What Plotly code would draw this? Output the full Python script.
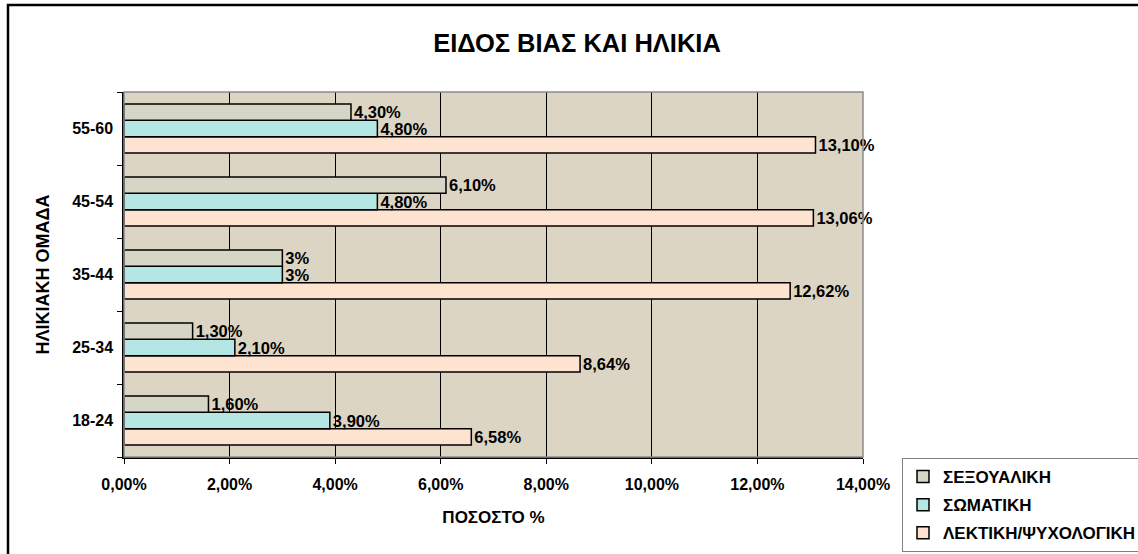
import plotly.graph_objects as go

# Age groups (bottom to top) and percentages per type of violence
age_groups = ["18-24", "25-34", "35-44", "45-54", "55-60"]
sexual = [1.60, 1.30, 3.00, 6.10, 4.30]
physical = [3.90, 2.10, 3.00, 4.80, 4.80]
verbal = [6.58, 8.64, 12.62, 13.06, 13.10]

sexual_labels = ["1,60%", "1,30%", "3%", "6,10%", "4,30%"]
physical_labels = ["3,90%", "2,10%", "3%", "4,80%", "4,80%"]
verbal_labels = ["6,58%", "8,64%", "12,62%", "13,06%", "13,10%"]

tick_vals = [0, 0.02, 0.04, 0.06, 0.08, 0.10, 0.12, 0.14]
tick_text = ["0,00%", "2,00%", "4,00%", "6,00%", "8,00%", "10,00%", "12,00%", "14,00%"]

FONT = "Arial, Liberation Sans, sans-serif"


def bold(size):
    return dict(family=FONT, size=size, color="#000000", weight="bold")


# (name, values, labels, fill, legend rank) — drawn bottom-up within a group
series = [
    ("ΛΕΚΤΙΚΗ/ΨΥΧΟΛΟΓΙΚΗ", verbal, verbal_labels, "#fde3d0", 3),
    ("ΣΩΜΑΤΙΚΗ", physical, physical_labels, "#b4e6e4", 2),
    ("ΣΕΞΟΥΑΛΙΚΗ", sexual, sexual_labels, "#d6d6c6", 1),
]

fig = go.Figure()
for name, vals, labels, color, rank in series:
    fig.add_trace(go.Bar(
        name=name,
        y=age_groups,
        x=[v / 100 for v in vals],
        orientation="h",
        text=labels,
        textposition="outside",
        constraintext="none",
        cliponaxis=False,
        textfont=bold(16.5),
        marker=dict(color=color, line=dict(color="#000000", width=1.5)),
        legendgroup=f"g{rank}",
        legendrank=rank,
        hoverinfo="skip",
    ))

L, R, T, B = 124, 275, 92, 97
W, H = 1138, 554
pw, ph = W - L - R, H - T - B


def px(x):
    return (x - L) / pw


def py(y):
    return (H - B - y) / ph


fig.update_layout(
    width=W,
    height=H,
    margin=dict(l=L, r=R, t=T, b=B, pad=0, autoexpand=False),
    paper_bgcolor="#ffffff",
    plot_bgcolor="#ddd5c4",
    barmode="group",
    bargap=0.33,
    bargroupgap=0,
    font=dict(family=FONT, color="#000000"),
    title=dict(
        text="<b>ΕΙΔΟΣ ΒΙΑΣ ΚΑΙ ΗΛΙΚΙΑ</b>",
        x=px(577), xanchor="center", xref="paper",
        y=1 - 43 / H, yanchor="middle",
        font=bold(25.5),
    ),
    xaxis=dict(
        range=[0, 0.14],
        tickvals=tick_vals,
        ticktext=tick_text,
        tickfont=bold(16),
        ticks="outside", ticklen=5, tickcolor="#000000",
        ticklabelstandoff=7,
        showgrid=True, gridcolor="#000000", gridwidth=1,
        showline=True, linecolor="#000000", linewidth=1.5,
        zeroline=False,
        title=dict(text="<b>ΠΟΣΟΣΤΟ %</b>", font=bold(17), standoff=19),
    ),
    yaxis=dict(
        type="category",
        categoryorder="array",
        categoryarray=age_groups,
        tickson="boundaries",
        ticks="outside", ticklen=5, tickcolor="#000000",
        ticklabelstandoff=6,
        tickfont=bold(16),
        showline=True, linecolor="#000000", linewidth=1.5,
        showgrid=False,
        title=dict(text="<b>ΗΛΙΚΙΑΚΗ ΟΜΑΔΑ</b>", font=bold(18), standoff=18),
    ),
    legend=dict(
        x=px(902), xanchor="left",
        y=py(458), yanchor="top",
        traceorder="grouped",
        tracegroupgap=3,
        bgcolor="#ffffff",
        bordercolor="#808080", borderwidth=1,
        font=bold(17),
        itemwidth=30,
    ),
    showlegend=True,
)

# Grey frame around the plotting area
fig.add_shape(type="rect", xref="paper", yref="paper", x0=0, x1=1, y0=0, y1=1,
              line=dict(color="#8c8c8c", width=1.5), layer="above")
# Outer chart border
fig.add_shape(type="rect", xref="paper", yref="paper",
              x0=px(8), x1=px(1145), y0=py(5), y1=py(560),
              line=dict(color="#000000", width=2.5), fillcolor="rgba(0,0,0,0)", layer="below")

fig.write_html("out.html")
